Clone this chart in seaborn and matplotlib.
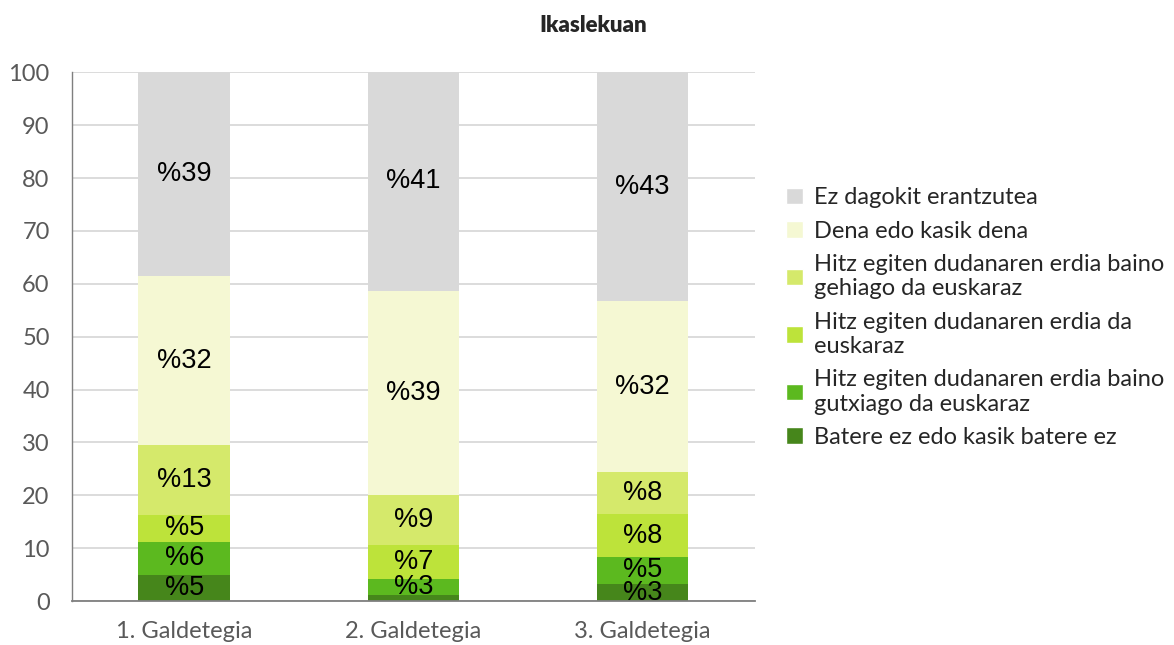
import numpy as np
import pandas as pd
import seaborn as sns
import matplotlib.pyplot as plt
from matplotlib.patches import Patch

galdetegiak = ['1. Galdetegia', '2. Galdetegia', '3. Galdetegia']
# bottom -> top
kategoriak = ['Batere ez edo kasik batere ez',
              'Hitz egiten dudanaren erdia baino\ngutxiago da euskaraz',
              'Hitz egiten dudanaren erdia da\neuskaraz',
              'Hitz egiten dudanaren erdia baino\ngehiago da euskaraz',
              'Dena edo kasik dena',
              'Ez dagokit erantzutea']
batere_ez = [5.0, 1.2, 3.2]
gutxiago = [6.2, 2.9, 5.2]
erdia = [5.1, 6.6, 8.0]
gehiago = [13.2, 9.4, 8.0]
dena = [31.9, 38.6, 32.3]
ez_dagokit = [38.6, 41.3, 43.3]
koloreak = ['#46861B', '#5CB91F', '#BDE33A', '#D5E96B', '#F5F8D3', '#D9D9D9']

balioak = np.array([batere_ez, gutxiago, erdia, gehiago, dena, ez_dagokit])
metatua = balioak.cumsum(axis=0)

sns.set_style('white')
plt.rcParams['font.family'] = ['Lato', 'DejaVu Sans']

fig, ax = plt.subplots(figsize=(11.74, 6.45), dpi=100)
fig.subplots_adjust(left=0.0613, right=0.643, top=0.888, bottom=0.068)

# stacked bars: draw cumulative totals from top layer down
for i in reversed(range(len(kategoriak))):
    df = pd.DataFrame({'galdetegia': galdetegiak, 'balioa': metatua[i]})
    sns.barplot(data=df, x='galdetegia', y='balioa', color=koloreak[i],
                width=0.4, saturation=1, linewidth=0, ax=ax, zorder=2)

for i in range(len(kategoriak)):
    for j in range(len(galdetegiak)):
        zenbakia = int(round(balioak[i, j]))
        if zenbakia < 2:
            continue
        erdigunea = metatua[i, j] - balioak[i, j] / 2
        ax.text(j, erdigunea, '%' + str(zenbakia), ha='center', va='center',
                fontsize=19.5, color='black', zorder=3,
                family=['Liberation Sans', 'DejaVu Sans'])

ax.set_ylim(0, 100)
ax.set_xlim(-0.49, 2.49)
ax.set_yticks(range(0, 101, 10))
ax.yaxis.grid(True, color='#D9D9D9', linewidth=1.3, zorder=0)
ax.set_axisbelow(True)
ax.set_xlabel('')
ax.set_ylabel('')
ax.tick_params(axis='both', length=0, labelsize=17, labelcolor='#595959')
ax.tick_params(axis='y', pad=16)
ax.tick_params(axis='x', pad=14)
for s in ['top', 'right']:
    ax.spines[s].set_visible(False)
ax.spines['bottom'].set_color('#7F7F7F')
ax.spines['bottom'].set_linewidth(1.3)
ax.spines['left'].set_color('#7F7F7F')
ax.spines['left'].set_linewidth(1.0)

ax.set_title('Ikaslekuan', fontsize=16, fontweight='heavy', pad=29,
             x=0.763)

eskuak = [Patch(facecolor=koloreak[i], label=kategoriak[i])
          for i in reversed(range(len(kategoriak)))]
leg = ax.legend(handles=eskuak, loc='center left', bbox_to_anchor=(1.015, 0.536),
                frameon=False, handlelength=0.7, handleheight=0.7,
                handletextpad=0.45, labelspacing=0.52, prop={'size': 17})
for t in leg.get_texts():
    t.set_linespacing(1.2)

fig.savefig('out.png', dpi=100)
